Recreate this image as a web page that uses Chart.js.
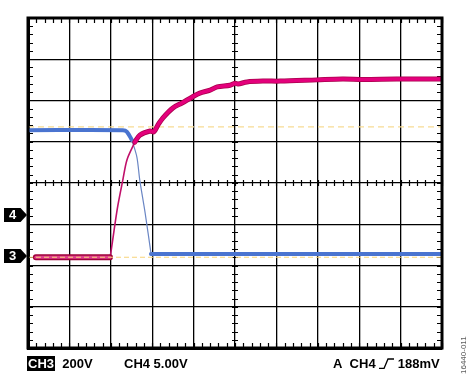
<!DOCTYPE html>
<html>
<head>
<meta charset="utf-8">
<script src="https://cdn.jsdelivr.net/npm/chart.js@4.4.1/dist/chart.umd.min.js"></script>
<style>
  body { margin: 0; background: #fff; }
  #wrap { position: relative; width: 471px; height: 376px; font-family: "Liberation Sans", Arial, sans-serif; }
  #scope { position: absolute; left: 0; top: 0; }
  .lbl { position: absolute; font-weight: bold; font-size: 13px; color: #000; white-space: nowrap; line-height: 13px; }
  .inv { background: #000; color: #fff; padding: 0 1px; }
  .mark { position: absolute; left: 4px; width: 23px; height: 14px; background: #000; color: #fff;
          font-weight: bold; font-size: 13px; line-height: 14px; text-indent: 5px;
          clip-path: polygon(0 0, 72% 0, 100% 50%, 72% 100%, 0 100%); }
  #fig { position: absolute; left: 459px; top: 374px; font-size: 8px; color: #555;
         transform: rotate(-90deg); transform-origin: 0 0; white-space: nowrap; }
</style>
</head>
<body>
<div id="wrap">
  <canvas id="scope" width="471" height="376"></canvas>
  <div class="mark" style="top:208px">4</div>
  <div class="mark" style="top:249px">3</div>
  <div class="lbl" style="left:27px;top:357px"><span class="inv">CH3</span>&nbsp; 200V</div>
  <div class="lbl" style="left:124px;top:357px">CH4 5.00V</div>
  <div class="lbl" style="left:333px;top:357px">A&nbsp; CH4 <svg width="15" height="11" viewBox="0 0 15 11" style="vertical-align:-1px"><path d="M0 10.5 H5 L9 1 H15" fill="none" stroke="#000" stroke-width="1.3"/></svg> 188mV</div>
  <div id="fig">16440-011</div>
</div>
<script>
document.addEventListener("DOMContentLoaded", function() {

  // CH3 (magenta) - ground level part, rise, then settle (x, y in divisions)
  const ch3FlatX = [0.19, 1.98];
  const ch3FlatY = [2.2, 2.2];
  const ch3RiseX = [1.98, 2.0, 2.08, 2.17, 2.29, 2.39, 2.58];
  const ch3RiseY = [2.2, 2.3, 2.86, 3.45, 4.07, 4.56, 4.99];
  const ch3TopX = [2.58, 2.7, 2.95, 3.04, 3.14, 3.26, 3.5, 3.72, 3.96, 4.15, 4.4, 4.57, 4.88, 5.0, 5.07, 5.29, 5.68, 6.09, 6.98, 7.6, 8.1, 8.9, 10];
  const ch3TopY = [4.99, 5.16, 5.26, 5.24, 5.41, 5.58, 5.82, 5.94, 6.08, 6.18, 6.25, 6.33, 6.37, 6.42, 6.4, 6.45, 6.47, 6.47, 6.5, 6.52, 6.51, 6.52, 6.52];

  // CH4 (blue)
  const ch4HighX = [0, 2.29, 2.39, 2.51];
  const ch4HighY = [5.28, 5.28, 5.24, 5.04];
  const ch4FallX = [2.51, 2.63, 2.7, 2.83, 2.97];
  const ch4FallY = [5.04, 4.63, 4.07, 3.27, 2.3];
  const ch4LowX = [2.97, 10];
  const ch4LowY = [2.28, 2.28];

  // yellow cursor / reference lines
  const cursorUpper = 5.36;
  const cursorLower = 2.2;

  const pts = (xs, ys) => xs.map((x, i) => ({ x: x, y: ys[i] }));
  const flat = (v) => [{ x: 0, y: v }, { x: 10, y: v }];

  // small ticks on the frame and on the centre cross, plus the heavy frame
  const minorTicks = {
    id: 'minorTicks',
    beforeDatasetsDraw(chart) {
      const ctx = chart.ctx, xs = chart.scales.x, ys = chart.scales.y;
      const a = chart.chartArea;
      ctx.save();
      ctx.strokeStyle = '#000';
      ctx.lineWidth = 1.2;
      ctx.beginPath();
      const cy = ys.getPixelForValue(4), cx = xs.getPixelForValue(5);
      for (let v = 0; v <= 10.001; v += 0.2) {
        const px = Math.round(xs.getPixelForValue(v)) + 0.5;
        ctx.moveTo(px, a.top); ctx.lineTo(px, a.top + 5);
        ctx.moveTo(px, a.bottom); ctx.lineTo(px, a.bottom - 5);
        ctx.moveTo(px, cy - 3); ctx.lineTo(px, cy + 3);
      }
      for (let v = 0; v <= 8.001; v += 0.2) {
        const py = Math.round(ys.getPixelForValue(v)) + 0.5;
        ctx.moveTo(a.left, py); ctx.lineTo(a.left + 5, py);
        ctx.moveTo(a.right, py); ctx.lineTo(a.right - 5, py);
        ctx.moveTo(cx - 3, py); ctx.lineTo(cx + 3, py);
      }
      ctx.stroke();
      ctx.restore();
    },
    afterDraw(chart) {
      const ctx = chart.ctx, a = chart.chartArea;
      ctx.save();
      ctx.strokeStyle = '#000';
      ctx.lineWidth = 3;
      ctx.strokeRect(a.left, a.top, a.right - a.left, a.bottom - a.top);
      ctx.restore();
    }
  };

  const line = (data, color, width, order, extra) => Object.assign({
    data: data, borderColor: color, borderWidth: width, order: order,
    pointRadius: 0, fill: false, tension: 0.3, borderJoinStyle: 'round', borderCapStyle: 'round'
  }, extra || {});

  new Chart(document.getElementById('scope'), {
    type: 'line',
    data: {
      datasets: [
        line(flat(cursorLower), '#f7d47a', 1.2, 0, { borderDash: [5, 3], tension: 0, borderCapStyle: 'butt' }),
        line(pts(ch3FlatX, ch3FlatY), '#e0408e', 3, 1, { tension: 0 }),
        line(pts(ch3FlatX, ch3FlatY), '#9e0038', 6, 2, { tension: 0 }),
        line(pts(ch3TopX, ch3TopY), '#e4007c', 3.5, 3),
        line(pts(ch3TopX, ch3TopY), '#a8004c', 5, 4),
        line(pts(ch3RiseX, ch3RiseY), '#c0106a', 1.6, 5),
        line(flat(cursorUpper), '#f7dc94', 1.2, 6, { borderDash: [6, 4], tension: 0, borderCapStyle: 'butt' }),
        line(pts(ch4FallX, ch4FallY), '#6a86c4', 1.2, 7),
        line(pts(ch4HighX, ch4HighY), '#4a74d0', 4, 8),
        line(pts(ch4LowX, ch4LowY), '#4a74d0', 4, 9, { tension: 0 })
      ]
    },
    options: {
      responsive: false,
      animation: false,
      layout: { padding: { left: 28, right: 29, top: 18, bottom: 28 } },
      plugins: { legend: { display: false }, tooltip: { enabled: false } },
      scales: {
        x: {
          type: 'linear', min: 0, max: 10,
          ticks: { display: false, stepSize: 1 },
          grid: { color: '#000', lineWidth: 1.3, drawTicks: false },
          border: { color: '#000', width: 3 }
        },
        y: {
          type: 'linear', min: 0, max: 8,
          ticks: { display: false, stepSize: 1 },
          grid: { color: '#000', lineWidth: 1.3, drawTicks: false },
          border: { color: '#000', width: 3 }
        }
      }
    },
    plugins: [minorTicks]
  });

});
</script>
</body>
</html>
